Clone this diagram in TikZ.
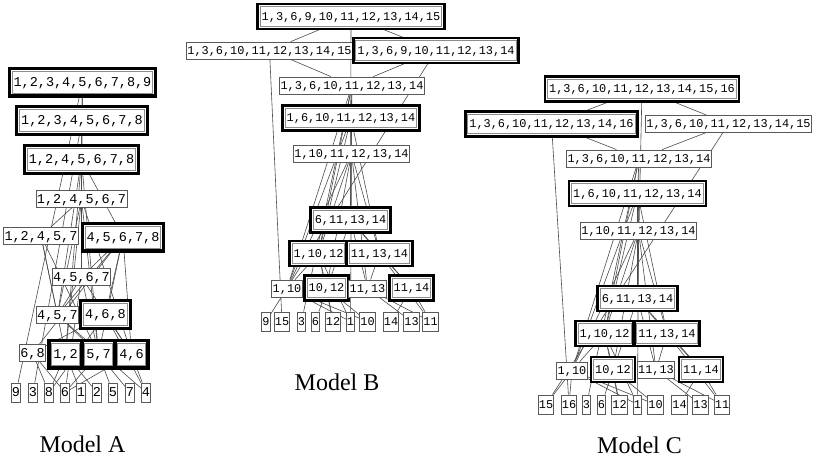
\documentclass[tikz,border=0pt]{standalone}
\usepackage{fontspec}
\setmainfont{Liberation Serif}
\newfontfamily\labmono{Liberation Mono}
\pgfdeclarelayer{paper}
\pgfdeclarelayer{edges}
\pgfsetlayers{paper,edges,main}
\tikzset{
  fA/.style={font=\labmono\fontsize{13.5}{14}\selectfont, text height=8.6pt, text depth=0pt},
  fB/.style={font=\labmono\fontsize{11.9}{12}\selectfont, text height=7.6pt, text depth=0pt},
  setbox/.style={draw=black!65, line width=0.8pt, fill=white, inner sep=0pt, inner xsep=1pt},
  band/.style={preaction={draw=black, line width=#1}, preaction={draw=white, line width=2.6pt},
               draw=black!45, line width=1pt},
  plainA/.style={setbox, fA, minimum height=17},
  thickA/.style={setbox, fA, minimum height=22, inner xsep=1.5pt, band=9pt},
  leafA/.style={setbox, fA, minimum height=19, inner xsep=0.6pt},
  plainB/.style={setbox, fB, minimum height=17},
  thickB/.style={setbox, fB, minimum height=19.5, inner xsep=1.5pt, band=8pt},
  leafB/.style={setbox, fB, minimum height=19, inner xsep=0.6pt},
  link/.style={draw=black!70, line width=0.6pt},
  caption/.style={font=\fontsize{24}{26}\selectfont, inner sep=0pt}
}
\begin{document}
\begin{tikzpicture}[x=1pt, y=-1pt]
\useasboundingbox (0,0) rectangle (813,461);
\begin{pgfonlayer}{paper}
  \fill[white] (0,0) rectangle (813,461);
\end{pgfonlayer}

% ---------------- Model A ----------------
\node[thickA] (a1) at (82.5,82) {1,2,3,4,5,6,7,8,9};
\node[thickA] (a2) at (82,120.5) {1,2,3,4,5,6,7,8};
\node[thickA] (a3) at (81.5,159.5) {1,2,4,5,6,7,8};
\node[plainA] (a4) at (81.5,199) {1,2,4,5,6,7};
\node[plainA] (a5) at (41,236) {1,2,4,5,7};
\node[thickA] (a6) at (123,237) {4,5,6,7,8};
\node[plainA] (a7) at (81.5,277) {4,5,6,7};
\node[plainA] (a8) at (57.5,315) {4,5,7};
\node[thickA] (a9) at (105.5,314.5) {4,6,8};
\node[plainA] (a10) at (32.5,353) {6,8};
\node[thickA] (a11) at (65.5,354) {1,2};
\node[thickA] (a12) at (98.5,354) {5,7};
\node[thickA] (a13) at (131.5,354) {4,6};
\foreach \t/\x in {9/16,3/33,8/49,6/65,1/81,2/97,5/113,7/130,4/146}
  \node[leafA] (la\t) at (\x,392.5) {\t};
\node[caption] (capA) at (82.5,444) {Model A};

% ---------------- Model B ----------------
\node[thickB] (b1) at (351,16.5) {1,3,6,9,10,11,12,13,14,15};
\node[plainB] (b2) at (269.5,50.5) {1,3,6,10,11,12,13,14,15};
\node[thickB] (b3) at (436,50.5) {1,3,6,9,10,11,12,13,14};
\node[plainB] (b4) at (352,85.5) {1,3,6,10,11,12,13,14};
\node[thickB] (b5) at (351,118) {1,6,10,11,12,13,14};
\node[plainB] (b6) at (351.5,153.5) {1,10,11,12,13,14};
\node[thickB] (b7) at (350.5,220) {6,11,13,14};
\node[thickB] (b8) at (318.5,253.5) {1,10,12};
\node[thickB] (b9) at (379.5,253.5) {11,13,14};
\node[plainB] (b10) at (287,288.5) {1,10};
\node[thickB] (b11) at (326.5,288) {10,12};
\node[plainB] (b12) at (367.5,288.5) {11,13};
\node[thickB] (b13) at (411.5,288) {11,14};
\foreach \t/\x in {9/266,15/282,3/301.5,6/315.5,12/333,1/350.5,10/367.5,14/391,13/411.5,11/430.5}
  \node[leafB] (lb\t) at (\x,321.5) {\t};
\node[caption] (capB) at (337,382) {Model B};

% ---------------- Model C ----------------
\node[thickB] (c1) at (642,89) {1,3,6,10,11,12,13,14,15,16};
\node[thickB] (c2) at (551.5,124) {1,3,6,10,11,12,13,14,16};
\node[plainB] (c3) at (728.5,124) {1,3,6,10,11,12,13,14,15};
\node[plainB] (c4) at (639,158.5) {1,3,6,10,11,12,13,14};
\node[thickB] (c5) at (637.5,193.5) {1,6,10,11,12,13,14};
\node[plainB] (c6) at (638.5,230.5) {1,10,11,12,13,14};
\node[thickB] (c7) at (637.5,298.5) {6,11,13,14};
\node[thickB] (c8) at (604.5,333.5) {1,10,12};
\node[thickB] (c9) at (667,333.5) {11,13,14};
\node[plainB] (c10) at (572,370.5) {1,10};
\node[thickB] (c11) at (613,369.5) {10,12};
\node[plainB] (c12) at (656,370) {11,13};
\node[thickB] (c13) at (701,369.5) {11,14};
\foreach \t/\x in {15/546,16/569,3/586.5,6/601.5,12/619.5,1/637.5,10/655.5,14/679.5,13/700.5,11/722}
  \node[leafB] (lc\t) at (\x,404.5) {\t};
\node[caption] (capC) at (639.5,445) {Model C};

% ---------------- connectors ----------------
\begin{pgfonlayer}{edges}
\foreach \u/\v in {a1/a2, a1/la9, a2/a3, a2/la3, a3/a4, a3/a6, a4/a5, a4/a7, a6/a7, a6/a9,
    a5/a8, a5/a11, a7/a8, a7/a13, a8/a12, a9/a10, a9/a13, a10/la8, a10/la6, a11/la1,
    a11/la2, a12/la5, a12/la7, a13/la4, a13/la6,
    a1/a3, a2/a4, a3/a7, a3/a8, a3/a11, a3/a12, a4/a8, a4/a11, a4/a12, a4/a13,
    a6/a8, a6/a12, a6/a13, a6/a10, a5/a12, a7/a12, a8/la4, a9/la8, a9/la4,
    a11/la8, a7/la6, a12/la6}
  \draw[link] (\u) -- (\v);
\foreach \u/\v in {b1/b2, b1/b3, b2/b4, b3/b4, b2/lb15, b3/lb9, b4/b5, b4/lb3, b5/b6, b5/b7,
    b6/b8, b6/b9, b7/b9, b7/lb6, b8/b10, b8/b11, b9/b12, b9/b13, b10/lb1, b10/lb10,
    b11/lb10, b11/lb12, b12/lb11, b12/lb13, b13/lb11, b13/lb14,
    b1/b7, b4/b7, b4/b8, b5/b8, b5/b9, b6/b10, b6/b11, b7/b12, b7/b13, b5/b10, b4/b10,
    b6/lb1, b8/lb1, b8/lb12, b9/lb11, b6/b12}
  \draw[link] (\u) -- (\v);
\foreach \u/\v in {c1/c2, c1/c3, c2/c4, c3/c4, c2/lc16, c3/lc15, c4/c5, c4/lc3, c5/c6, c5/c7,
    c6/c8, c6/c9, c7/c9, c7/lc6, c8/c10, c8/c11, c9/c12, c9/c13, c10/lc1, c10/lc10,
    c11/lc10, c11/lc12, c12/lc11, c12/lc13, c13/lc11, c13/lc14,
    c1/c7, c4/c7, c4/c8, c5/c8, c5/c9, c6/c10, c6/c11, c7/c12, c7/c13, c5/c10, c4/c10,
    c6/lc1, c8/lc1, c8/lc12, c9/lc11, c6/c12, c10/lc15, c10/lc16}
  \draw[link] (\u) -- (\v);
\end{pgfonlayer}
\end{tikzpicture}
\end{document}
